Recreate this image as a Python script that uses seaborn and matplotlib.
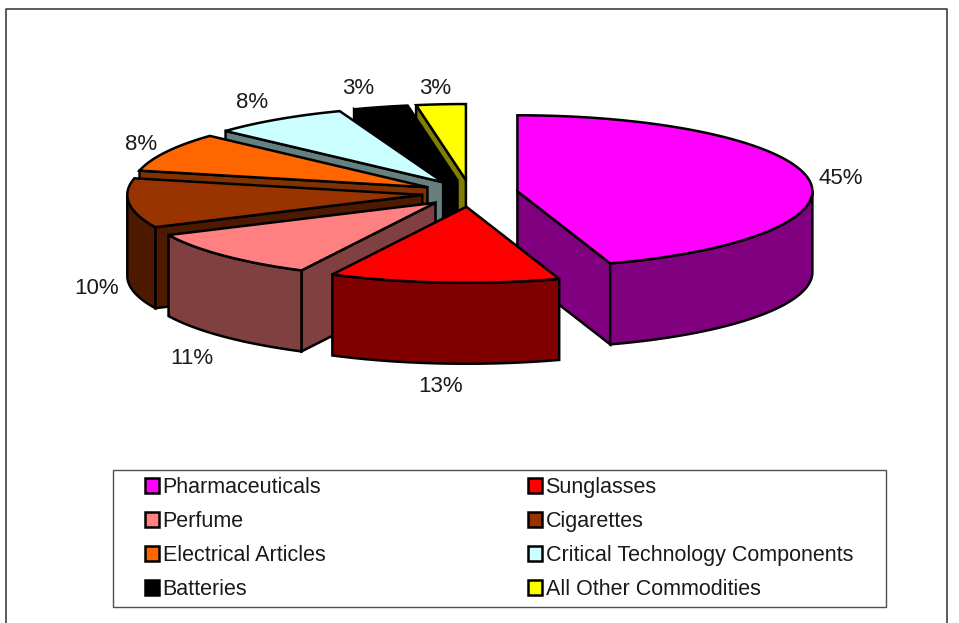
import numpy as np
import matplotlib
matplotlib.use("Agg")
import matplotlib.pyplot as plt
from matplotlib.patches import Patch, Rectangle
import seaborn as sns

categories = ["Pharmaceuticals", "Sunglasses", "Perfume", "Cigarettes",
              "Electrical Articles", "Critical Technology Components",
              "Batteries", "All Other Commodities"]
shares = [44.9, 12.6, 10.5, 10.49, 8.3, 7.5, 3.0, 2.7]
colors = ["#FF00FF", "#FF0000", "#FF8080", "#993300",
          "#FF6600", "#CCFFFF", "#000000", "#FFFF00"]
label_text = ["45%", "13%", "11%", "10%", "8%", "8%", "3%", "3%"]

sns.set_theme(style="white")
plt.rcParams["font.family"] = ["Liberation Sans", "DejaVu Sans"]

# pie geometry in pixels
cx, cy = 470, 193.4
rx, ry = 295, 76
ex, ey = 48, 13.4
depth = 81
lw = 1.8
text_color = "#1a1a1a"

# where the percent labels sit
label_pos = [(841, 179), (441, 387), (192, 359), (97, 289),
             (141, 144), (252, 103), (358, 88), (435, 89)]


def face(ax, xs, ys, color):
    ax.fill(xs, ys, facecolor=color, edgecolor="black", linewidth=lw, joinstyle="miter")


def draw_slice(ax, start, end, color):
    mid = (start + end) / 2
    x0 = cx + ex * np.sin(mid)
    y0 = cy - ey * np.cos(mid)
    side = tuple(c * 0.5 for c in color)

    def pt(a):
        return x0 + rx * np.sin(a), y0 - ry * np.cos(a)

    # cut faces, only if they look towards the viewer
    for a, visible in ((start, np.sin(start) < -1e-6), (end, np.sin(end) > 1e-6)):
        if visible:
            x1, y1 = pt(a)
            face(ax, [x0, x1, x1, x0], [y0, y1, y1 + depth, y0 + depth], side)

    # outer wall, front half of the ellipse
    lo = max(start, np.pi / 2)
    hi = min(end, 3 * np.pi / 2)
    if hi > lo:
        t = np.linspace(lo, hi, 80)
        xs, ys = pt(t)
        face(ax, np.r_[xs, xs[::-1]], np.r_[ys, ys[::-1] + depth], side)

    t = np.linspace(start, end, 120)
    xs, ys = pt(t)
    face(ax, np.r_[x0, xs], np.r_[y0, ys], color)


fig = plt.figure(figsize=(9.59, 6.23), dpi=100)
ax = fig.add_axes([0, 0, 1, 1])
ax.set_xlim(0, 959)
ax.set_ylim(623, 0)
ax.axis("off")

# chart frame, bottom edge is cut off in the original
ax.plot([6, 6, 947, 947], [623, 9, 9, 623], color="#404040", lw=1.2)

palette = sns.color_palette(colors)
angles = np.r_[0, np.cumsum(shares)] / np.sum(shares) * 2 * np.pi
# back slices first
order = sorted(range(len(shares)), key=lambda i: -np.cos((angles[i] + angles[i + 1]) / 2))
for i in order:
    draw_slice(ax, angles[i], angles[i + 1], palette[i])

for txt, (x, y) in zip(label_text, label_pos):
    ax.text(x, y, txt, ha="center", va="center", fontsize=16, color=text_color)

ax.add_patch(Rectangle((113, 470), 773, 137, fill=False, edgecolor="#505050", lw=1))
handles = [Patch(facecolor=c, edgecolor="black", linewidth=lw, label=n) for c, n in zip(palette, categories)]
# legend fills by column, the original reads row by row
handles = handles[0::2] + handles[1::2]
ax.legend(handles=handles, ncol=2, frameon=False, loc="lower left",
          bbox_to_anchor=(141 / 959, 1 - 604 / 623), borderaxespad=0, borderpad=0.2,
          fontsize=15.5, labelcolor=text_color, handlelength=0.65, handleheight=0.68,
          handletextpad=0.15, labelspacing=0.6, columnspacing=9.43)

plt.savefig("out.png", dpi=100)
